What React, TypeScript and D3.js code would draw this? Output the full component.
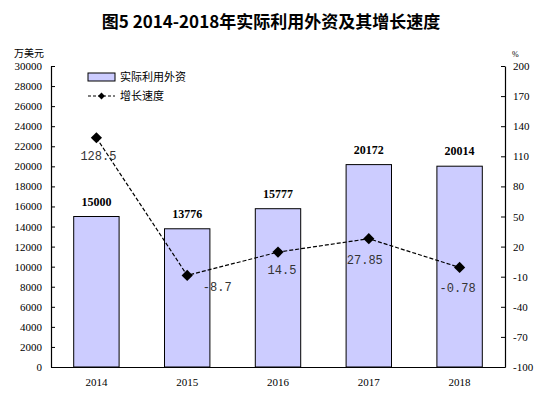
import React, { useEffect, useRef } from "react";
import * as d3 from "d3";

// 年份、实际利用外资（万美元）、增长速度（%）
const years = ["2014", "2015", "2016", "2017", "2018"];
const foreignCapital = [15000, 13776, 15777, 20172, 20014];
const growthRate = [128.5, -8.7, 14.5, 27.85, -0.78];
const growthLabels = ["128.5", "-8.7", "14.5", "27.85", "-0.78"];
// 增长速度标签相对点的偏移
const growthLabelDx = [2, 30, 4, -4, -2];
const growthLabelDy = [22, 16, 22, 25, 25];
const leftTicks = d3.range(0, 30001, 2000);
const rightTicks = d3.range(-100, 201, 30);

const serif = "'Liberation Serif', 'DejaVu Serif', 'Noto Sans CJK SC', serif";
const cjk = "'Noto Sans CJK SC', sans-serif";

const App: React.FC = () => {
  const svgRef = useRef<SVGSVGElement>(null);
  const width = 542;
  const height = 396;

  useEffect(() => {
    if (!svgRef.current) return;
    const svg = d3.select(svgRef.current);
    svg.selectAll("*").remove();

    const margin = { top: 66, right: 37, bottom: 29, left: 51 };
    const chartWidth = width - margin.left - margin.right;
    const chartHeight = height - margin.top - margin.bottom;

    const g = svg
      .append("g")
      .attr("transform", `translate(${margin.left}, ${margin.top})`);

    const x = d3.scaleBand().domain(years).range([0, chartWidth]).padding(0);
    const yLeft = d3.scaleLinear().domain([0, 30000]).range([chartHeight, 0]);
    const yRight = d3.scaleLinear().domain([-100, 200]).range([chartHeight, 0]);
    const barW = x.bandwidth() * 0.5;

    // 标题
    svg
      .append("text")
      .attr("x", width / 2)
      .attr("y", 28)
      .attr("text-anchor", "middle")
      .style("font-family", cjk)
      .style("font-weight", "bold")
      .style("font-size", "17px")
      .text("图5 2014-2018年实际利用外资及其增长速度");

    // 单位
    svg
      .append("text")
      .attr("x", 14)
      .attr("y", 57)
      .style("font-family", cjk)
      .style("font-size", "10px")
      .text("万美元");
    svg
      .append("text")
      .attr("x", 512)
      .attr("y", 57)
      .style("font-family", serif)
      .style("font-size", "8px")
      .text("%");

    // 柱
    g.selectAll(".bar")
      .data(foreignCapital)
      .enter()
      .append("rect")
      .attr("x", (_, i) => (x(years[i]) as number) + (x.bandwidth() - barW) / 2)
      .attr("y", (d) => yLeft(d))
      .attr("width", barW)
      .attr("height", (d) => chartHeight - yLeft(d))
      .attr("fill", "#CCCCFF")
      .attr("stroke", "#000")
      .attr("stroke-width", 1);

    // 柱标签
    g.selectAll(".barLabel")
      .data(foreignCapital)
      .enter()
      .append("text")
      .attr("x", (_, i) => (x(years[i]) as number) + x.bandwidth() / 2)
      .attr("y", (d) => yLeft(d) - 11)
      .attr("text-anchor", "middle")
      .style("font-family", serif)
      .style("font-weight", "bold")
      .style("font-size", "12px")
      .text((d) => d);

    // 左轴
    const leftAxis = g
      .append("g")
      .call(
        d3
          .axisLeft(yLeft)
          .tickValues(leftTicks)
          .tickSize(-4)
          .tickSizeOuter(0)
          .tickPadding(9)
          .tickFormat(d3.format("d"))
      );
    leftAxis.selectAll("text").style("font-family", serif).style("font-size", "11px");

    // 右轴
    const rightAxis = g
      .append("g")
      .attr("transform", `translate(${chartWidth}, 0)`)
      .call(
        d3
          .axisRight(yRight)
          .tickValues(rightTicks)
          .tickSize(-4)
          .tickSizeOuter(0)
          .tickPadding(8)
          .tickFormat(d3.format("d"))
      );
    rightAxis.selectAll("text").style("font-family", serif).style("font-size", "11px");
    rightAxis.selectAll("text").text((d: any) => `${d}`);

    // 底轴
    const bottomAxis = g
      .append("g")
      .attr("transform", `translate(0, ${chartHeight})`)
      .call(d3.axisBottom(x).tickSize(0).tickPadding(11));
    bottomAxis.selectAll("text").style("font-family", serif).style("font-size", "11px");
    svg.selectAll(".domain").attr("stroke", "#000").attr("stroke-width", 1.2);

    // 增长速度折线
    const line = d3
      .line<number>()
      .x((_, i) => (x(years[i]) as number) + x.bandwidth() / 2)
      .y((d) => yRight(d));
    g.append("path")
      .datum(growthRate)
      .attr("fill", "none")
      .attr("stroke", "#000")
      .attr("stroke-width", 1.2)
      .attr("stroke-dasharray", "4,2")
      .attr("d", line);

    const diamond = d3.symbol().type(d3.symbolDiamond2).size(80);
    g.selectAll(".dot")
      .data(growthRate)
      .enter()
      .append("path")
      .attr("d", diamond)
      .attr(
        "transform",
        (d, i) =>
          `translate(${(x(years[i]) as number) + x.bandwidth() / 2}, ${yRight(d)})`
      )
      .attr("fill", "#000");

    g.selectAll(".growthLabel")
      .data(growthRate)
      .enter()
      .append("text")
      .attr(
        "x",
        (_, i) => (x(years[i]) as number) + x.bandwidth() / 2 + growthLabelDx[i]
      )
      .attr("y", (d, i) => yRight(d) + growthLabelDy[i])
      .attr("text-anchor", "middle")
      .style("font-family", "'Liberation Mono', 'DejaVu Sans Mono', monospace")
      .style("font-size", "12px")
      .style("fill", "#333")
      .text((_, i) => growthLabels[i]);

    // 图例
    const legend = svg.append("g").attr("transform", "translate(88, 73)");
    legend
      .append("rect")
      .attr("x", 0)
      .attr("y", 0)
      .attr("width", 27)
      .attr("height", 8)
      .attr("fill", "#CCCCFF")
      .attr("stroke", "#000");
    legend
      .append("text")
      .attr("x", 32)
      .attr("y", 8)
      .style("font-family", cjk)
      .style("font-size", "11px")
      .text("实际利用外资");
    legend
      .append("line")
      .attr("x1", 0)
      .attr("x2", 27)
      .attr("y1", 23)
      .attr("y2", 23)
      .attr("stroke", "#000")
      .attr("stroke-width", 1.2)
      .attr("stroke-dasharray", "3,2");
    legend
      .append("path")
      .attr("d", d3.symbol().type(d3.symbolDiamond2).size(30))
      .attr("transform", "translate(13.5, 23)")
      .attr("fill", "#000");
    legend
      .append("text")
      .attr("x", 32)
      .attr("y", 27)
      .style("font-family", cjk)
      .style("font-size", "11px")
      .text("增长速度");
  }, []);

  return <svg ref={svgRef} width={width} height={height} style={{ display: "block", margin: "-8px" }} />;
};

export default App;
